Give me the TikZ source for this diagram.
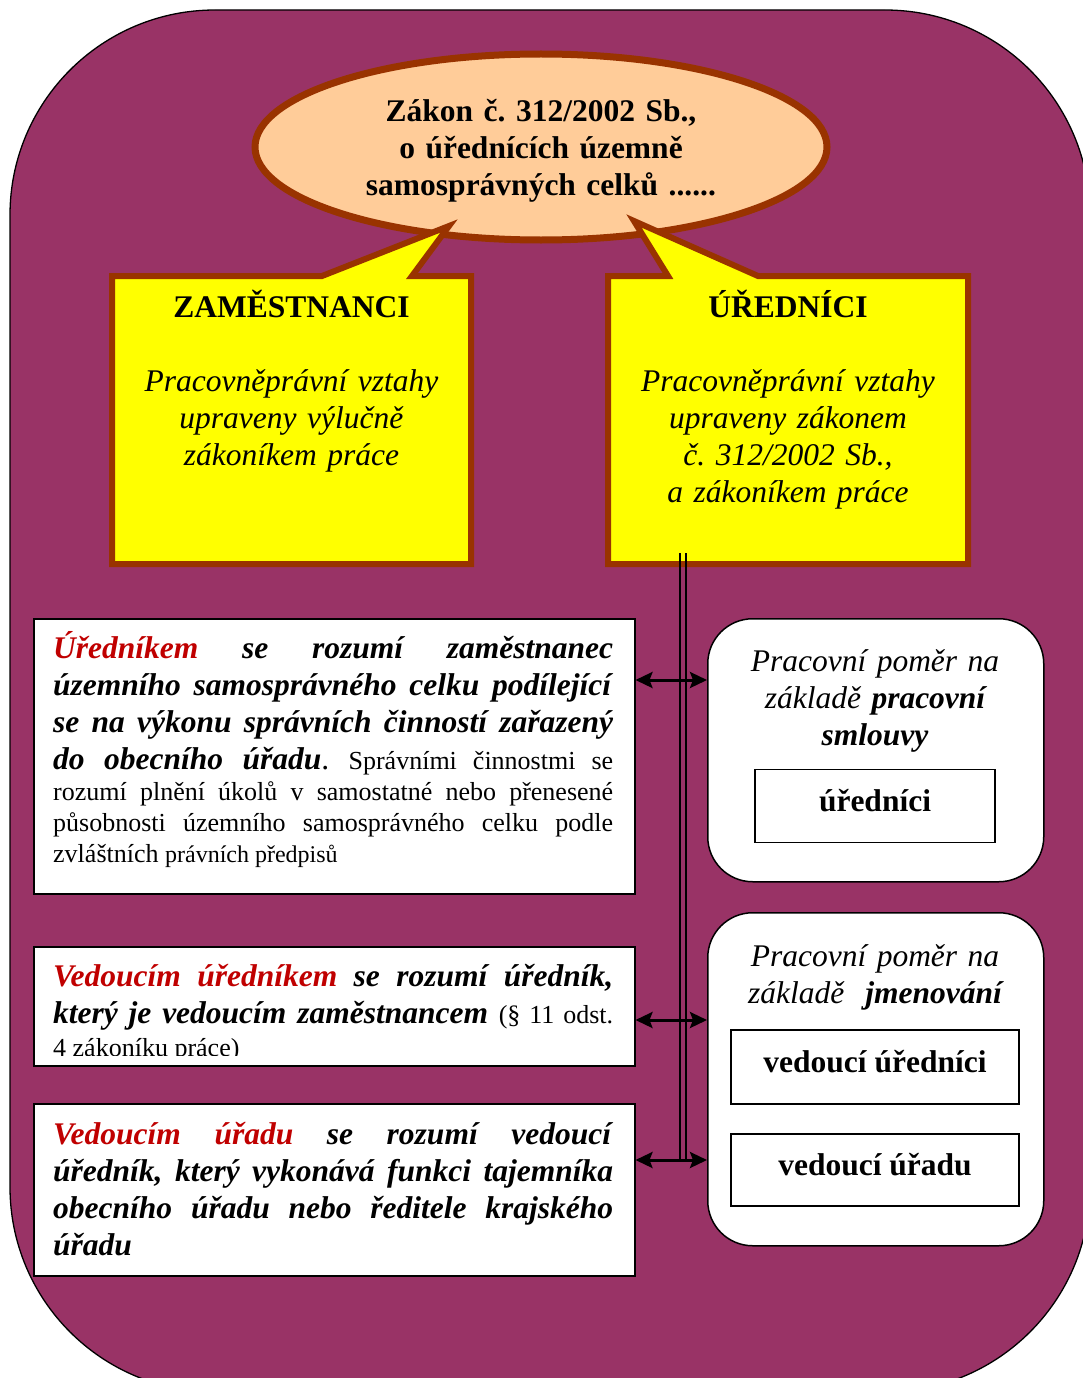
\documentclass[tikz,border=0pt]{standalone}
\usepackage{fontspec}
\setmainfont{Liberation Serif}
\frenchspacing
\usetikzlibrary{arrows.meta,shapes.geometric}
\definecolor{bgpurple}{HTML}{993366}
\definecolor{brownb}{HTML}{993300}
\definecolor{peach}{HTML}{FFCC99}
\definecolor{yel}{HTML}{FFFF00}
\definecolor{redt}{HTML}{C00000}
\newcommand\fbig{\fontsize{31.5pt}{37pt}\selectfont}
\newcommand\fsmall{\fontsize{26pt}{31pt}\selectfont}
\newcommand\fsmaller{\fontsize{24pt}{29pt}\selectfont}
\newcommand\stA{\rule[-11pt]{0pt}{37pt}}
\newcommand\stB{\rule[-11pt]{0pt}{31pt}}
\newcommand\stC{\rule[-11pt]{0pt}{33pt}}
\newcommand\stT{\rule[-11pt]{0pt}{45pt}}
\newcommand\bi[1]{\textbf{\textit{#1}}}
\newcommand\rbi[1]{\textcolor{redt}{\textbf{\textit{#1}}}}
\begin{document}
\begin{tikzpicture}[x=1pt,y=-1pt,
  callout/.style={draw=brownb, fill=yel, line width=6pt, line join=miter, miter limit=10},
  ytext/.style={anchor=north, text width=350pt, align=center, inner sep=0pt, font=\fbig\frenchspacing\offinterlineskip},
  lbox/.style={draw=black, line width=1.5pt, fill=white, anchor=north west, minimum width=601pt, inner sep=0pt},
  ltext/.style={anchor=north west, text width=560pt, align=justify, inner sep=0pt, font=\fbig\frenchspacing\offinterlineskip},
  rbox/.style={draw=black, line width=1.5pt, fill=white, rounded corners=45pt, anchor=north west, minimum width=336pt, inner sep=0pt},
  rtext/.style={anchor=north, text width=320pt, align=center, inner sep=0pt, font=\fbig\itshape\offinterlineskip},
  ibox/.style={draw=black, line width=1.5pt, fill=white, inner sep=0pt, text height=22pt, text depth=11pt, font=\fbig\bfseries},
  biarrow/.style={line width=3pt, {Stealth[length=17pt,width=16pt,inset=3pt]}-{Stealth[length=17pt,width=16pt,inset=3pt]}},
  vline/.style={line width=2pt}]
\useasboundingbox (0,0) rectangle (1083,1378);
\clip (0,0) rectangle (1083,1378);
\fill[white] (0,0) rectangle (1083,1378);
% background
\draw[fill=bgpurple, line width=1.3pt, rounded corners=205pt] (10,10) rectangle (1090,1392);
% law ellipse
\node[ellipse, draw=brownb, fill=peach, line width=7pt, minimum width=572pt, minimum height=186pt,
      inner sep=0pt, text width=360pt, align=center, font=\fbig\bfseries\frenchspacing\offinterlineskip] (zakon) at (541,147)
  {\stT Zákon č. 312/2002 Sb.,\\\stA o úřednících územně\\\stA samosprávných celků ......};
% callouts
\draw[callout] (112,276) -- (322,276) -- (449,226) -- (412,276) -- (471,276) -- (471,564) -- (112,564) -- cycle;
\draw[callout] (608,276) -- (668,276) -- (634,221) -- (758,276) -- (968,276) -- (968,564) -- (608,564) -- cycle;
\node[ytext] (zam) at (291.5,289.5)
  {\stA\textbf{ZAMĚSTNANCI}\\[37pt]\stA\textit{Pracovněprávní vztahy}\\\stA\textit{upraveny výlučně}\\\stA\textit{zákoníkem práce}};
\node[ytext] (ured) at (788,289.5)
  {\stA\textbf{ÚŘEDNÍCI}\\[37pt]\stA\textit{Pracovněprávní vztahy}\\\stA\textit{upraveny zákonem}\\\stA\textit{č. 312/2002 Sb.,}\\\stA\textit{a zákoníkem práce}};
% left boxes
\node[lbox, minimum height=275pt] (box1) at (33,618) {};
\node[ltext] (t1) at (53,631) {%
\stA\rbi{Úředníkem} \bi{se rozumí zaměstnanec}\linebreak
\stA\bi{územního samosprávného celku podílející}\linebreak
\stA\bi{se na výkonu správních činností zařazený}\linebreak
\stA\bi{do obecního úřadu}. {\fsmall Správními činnostmi se}\linebreak
\stB{\fsmall rozumí plnění úkolů v samostatné nebo přenesené}\linebreak
\stB{\fsmall působnosti územního samosprávného celku podle}\linebreak
\stB{\fsmall zvláštních {\fsmaller právních předpisů}}};
\node[lbox, minimum height=119pt] (box2) at (33,946) {};
\begin{scope}
\clip (box2.north west) rectangle (634,1055);
\node[ltext] (t2) at (53,960) {%
\stA\rbi{Vedoucím úředníkem} \bi{se rozumí úředník,}\linebreak
\stA\bi{který je vedoucím zaměstnancem} {\fsmall (§ 11 odst.}\linebreak
\stC{\fsmall 4 zákoníku práce)}};
\end{scope}
\node[lbox, minimum height=172pt] (box3) at (33,1103) {};
\node[ltext] (t3) at (53,1118) {%
\stA\rbi{Vedoucím úřadu} \bi{se rozumí vedoucí}\linebreak
\stA\bi{úředník, který vykonává funkci tajemníka}\linebreak
\stA\bi{obecního úřadu nebo ředitele krajského}\linebreak
\stA\bi{úřadu}};
% right boxes
\node[rbox, minimum height=263pt] (boxA) at (707,618) {};
\node[rtext] (tA) at (875,645) {\stA Pracovní poměr na\\\stA základě \bi{pracovní}\\\stA\bi{smlouvy}};
\node[ibox, minimum width=240pt, minimum height=73pt] (iur) at (875,806) {úředníci};
\node[rbox, minimum height=333pt] (boxB) at (707,912) {};
\node[rtext] (tB) at (875,940) {\stA Pracovní poměr na\\\stA základě~ \bi{jmenování}};
\node[ibox, minimum width=288pt, minimum height=74pt] (ivu) at (875,1067) {vedoucí úředníci};
\node[ibox, minimum width=288pt, minimum height=72pt] (ivo) at (875,1170) {vedoucí úřadu};
% connectors
\coordinate (vtop) at (683,553);
\coordinate (vbot) at (683,1160);
\coordinate (a1) at (683,680);
\coordinate (a2) at (683,1020);
\draw[vline] ([xshift=-3pt]vtop) -- ([xshift=-3pt]vbot);
\draw[vline] ([xshift=3pt]vtop) -- ([xshift=3pt]vbot);
\draw[biarrow] (a1 -| box1.east) -- (a1 -| boxA.west);
\draw[biarrow] (a2 -| box2.east) -- (a2 -| boxB.west);
\draw[biarrow] (vbot -| box3.east) -- (vbot -| boxB.west);
\end{tikzpicture}
\end{document}
